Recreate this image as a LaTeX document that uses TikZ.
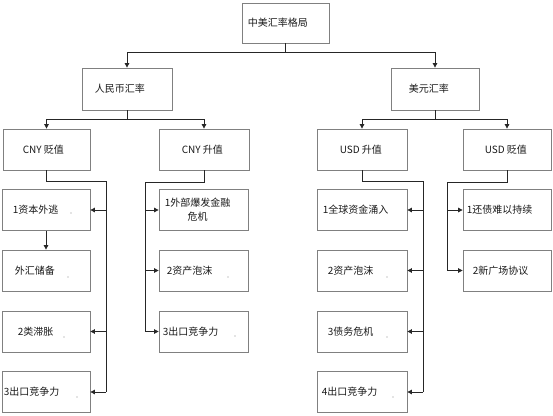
\documentclass[tikz,border=0pt]{standalone}
\usepackage{fontspec}
\setmainfont{Noto Sans CJK SC}
\usetikzlibrary{arrows.meta}
\begin{document}
\begin{tikzpicture}[x=1pt,y=-1pt,
  bx/.style={draw=black!50,line width=0.8pt,inner sep=0pt,minimum height=41pt},
  lbl/.style={anchor=west,inner sep=0pt,font=\fontsize{10}{14}\selectfont,text=black!90},
  ln/.style={draw=black!85,line width=0.8pt},
  arr/.style={-{Triangle[length=4.5pt,width=4.5pt]}},
  dotm/.style={fill=black!45,draw=none}]
\useasboundingbox (0,0) rectangle (553,415);
% level 1
\node[bx,minimum width=87pt,minimum height=40pt] (top) at (285.5,23) {};
% level 2
\node[bx,minimum width=90pt,minimum height=42pt] (rmb) at (127,89) {};
\node[bx,minimum width=88pt,minimum height=42pt] (usd) at (435,89) {};
% level 3
\node[bx,minimum width=87pt] (cnyd) at (46.5,149.5) {};
\node[bx,minimum width=90pt] (cnyu) at (204,149.5) {};
\node[bx,minimum width=90pt] (usdu) at (362,149.5) {};
\node[bx,minimum width=88pt] (usdd) at (507,149.5) {};
% level 4, column 1
\node[bx,minimum width=88pt] (a1) at (46,210) {};
\node[bx,minimum width=88pt] (a2) at (46,270.5) {};
\node[bx,minimum width=88pt] (a3) at (46,331.5) {};
\node[bx,minimum width=88pt] (a4) at (46,392) {};
% column 2
\node[bx,minimum width=89pt] (b1) at (203.5,210) {};
\node[bx,minimum width=89pt] (b2) at (203.5,270.5) {};
\node[bx,minimum width=89pt] (b3) at (203.5,331.5) {};
% column 3
\node[bx,minimum width=90pt] (c1) at (362,210) {};
\node[bx,minimum width=90pt] (c2) at (362,270.5) {};
\node[bx,minimum width=90pt] (c3) at (362,331.5) {};
\node[bx,minimum width=90pt] (c4) at (362,392) {};
% column 4
\node[bx,minimum width=88pt] (d1) at (507,210) {};
\node[bx,minimum width=88pt] (d2) at (507,270.5) {};

% labels
\node[lbl] (ttop) at ([xshift=6pt]top.west) {中美汇率格局};
\node[lbl] (trmb) at ([xshift=13pt]rmb.west) {人民币汇率};
\node[lbl] (tusd) at ([xshift=18pt]usd.west) {美元汇率};
\node[lbl] (tcnyd) at ([xshift=20pt]cnyd.west) {CNY 贬值};
\node[lbl] (tcnyu) at ([xshift=23pt]cnyu.west) {CNY 升值};
\node[lbl] (tusdu) at ([xshift=23pt]usdu.west) {USD 升值};
\node[lbl] (tusdd) at ([xshift=22pt]usdd.west) {USD 贬值};
\node[lbl] (ta1) at ([xshift=11pt]a1.west) {1资本外逃};
\node[lbl] (ta2) at ([xshift=13pt]a2.west) {外汇储备};
\node[lbl] (ta3) at ([xshift=16pt]a3.west) {2类滞胀};
\node[lbl] (ta4) at ([xshift=2pt]a4.west) {3出口竞争力};
\node[lbl,align=center] (tb1) at ([xshift=6pt]b1.west) {1外部爆发金融\\危机};
\node[lbl] (tb2) at ([xshift=8pt]b2.west) {2资产泡沫};
\node[lbl] (tb3) at ([xshift=4pt]b3.west) {3出口竞争力};
\node[lbl] (tc1) at ([xshift=6pt]c1.west) {1全球资金涌入};
\node[lbl] (tc2) at ([xshift=11pt]c2.west) {2资产泡沫};
\node[lbl] (tc3) at ([xshift=11pt]c3.west) {3债务危机};
\node[lbl] (tc4) at ([xshift=5pt]c4.west) {4出口竞争力};
\node[lbl] (td1) at ([xshift=4pt]d1.west) {1还债难以持续};
\node[lbl] (td2) at ([xshift=10pt]d2.west) {2新广场协议};

% small dots
\foreach \p in {(71,213),(68,277),(64,337),(77,397),(228,277),(235,336),(387,277),(387,337),(393,397)}
  \fill[dotm] \p circle (0.7);

% connectors level 1-3
\draw[ln,arr] (top.south) -- ++(0,9) -| (rmb.north);
\draw[ln,arr] (top.south) -- ++(0,9) -| (usd.north);
\draw[ln,arr] (rmb.south) -- ++(0,9) -| (cnyd.north);
\draw[ln,arr] (rmb.south) -- ++(0,9) -| (cnyu.north);
\draw[ln,arr] (usd.south) -- ++(0,9) -| (usdu.north);
\draw[ln,arr] (usd.south) -- ++(0,9) -| (usdd.north);

% column 1
\coordinate (j1) at (106,181);
\draw[ln] (cnyd.south) |- (j1) -- (j1 |- a4.east);
\draw[ln,arr] (j1 |- a1.east) -- (a1.east);
\draw[ln,arr] (j1 |- a3.east) -- (a3.east);
\draw[ln,arr] (j1 |- a4.east) -- (a4.east);
\draw[ln,arr] (a1.south) -- (a2.north);
% column 2
\coordinate (j2) at (145,182);
\draw[ln] (cnyu.south) |- (j2) -- (j2 |- b3.west);
\draw[ln,arr] (j2 |- b1.west) -- (b1.west);
\draw[ln,arr] (j2 |- b2.west) -- (b2.west);
\draw[ln,arr] (j2 |- b3.west) -- (b3.west);
% column 3
\coordinate (j3) at (423,181);
\draw[ln] (usdu.south) |- (j3) -- (j3 |- c4.east);
\draw[ln,arr] (j3 |- c1.east) -- (c1.east);
\draw[ln,arr] (j3 |- c2.east) -- (c2.east);
\draw[ln,arr] (j3 |- c3.east) -- (c3.east);
\draw[ln,arr] (j3 |- c4.east) -- (c4.east);
% column 4
\coordinate (j4) at (447,182);
\draw[ln] (usdd.south) |- (j4) -- (j4 |- d2.west);
\draw[ln,arr] (j4 |- d1.west) -- (d1.west);
\draw[ln,arr] (j4 |- d2.west) -- (d2.west);
\end{tikzpicture}
\end{document}
